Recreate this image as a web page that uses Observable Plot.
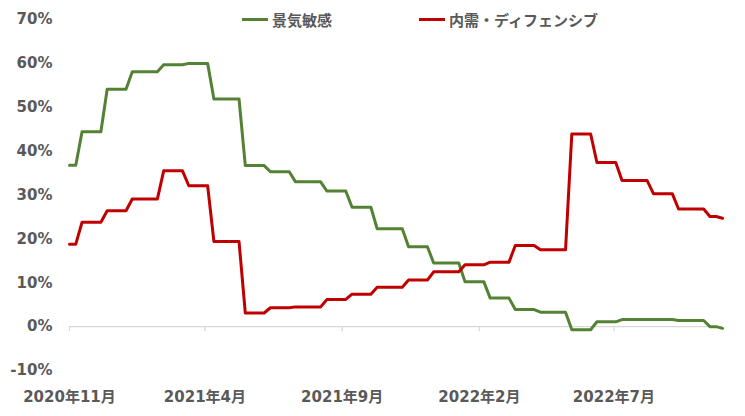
<!DOCTYPE html>
<html><head><meta charset="utf-8">
<script src="https://cdn.jsdelivr.net/npm/d3@7"></script>
<script src="https://cdn.jsdelivr.net/npm/@observablehq/plot@0.6"></script>
<style>
body{margin:0;background:#fff;}
#wrap{position:relative;width:745px;height:416px;font-family:"DejaVu Sans","Noto Sans CJK JP",sans-serif;}
.leg{position:absolute;top:9px;height:20px;display:flex;align-items:center;font-weight:bold;font-size:15px;color:#595959;white-space:nowrap;}
.sw{width:26px;height:3px;margin-right:4px;}
</style></head>
<body><div id="wrap"></div>
<script>
// Monthly values (%), each month's value in effect from ~10th of the month
const months = ["2020-10","2020-11","2020-12","2021-01","2021-02","2021-03","2021-04","2021-05","2021-06","2021-07","2021-08","2021-09","2021-10","2021-11","2021-12","2022-01","2022-02","2022-03","2022-04","2022-05","2022-06","2022-07","2022-08","2022-09","2022-10"];
const cyclical  = [36.8,44.4,54.1,58.1,59.7,60.0,51.9,36.7,35.3,33.0,30.9,27.2,22.3,18.2,14.5,10.2,6.5,3.9,3.3,-0.7,1.1,1.6,1.6,1.4,0.0];
const defensive = [18.8,23.8,26.4,29.1,35.5,32.1,19.4,3.1,4.3,4.5,6.2,7.4,9.0,10.6,12.5,14.1,14.7,18.5,17.5,43.9,37.4,33.3,30.3,26.8,25.1];
// latest observation
const latestCyclical = -0.4;
const latestDefensive = 24.7;
const seriesNames = ["景気敏感","内需・ディフェンシブ"];
const seriesColors = ["#548235","#C00000"];
const tickDates = ["2020-11-01","2021-04-01","2021-09-01","2022-02-01","2022-07-01"];
const tickLabels = ["2020年11月","2021年4月","2021年9月","2022年2月","2022年7月"];
const yTicks = [-10,0,10,20,30,40,50,60,70];

const parse = d3.timeParse("%Y-%m-%d");
const fmtM = d3.timeFormat("%Y-%m");
const weeks = d3.timeSunday.range(new Date(2020,10,1), new Date(2022,9,31));
const data = [];
[cyclical, defensive].forEach((vals, s) => {
  weeks.forEach((d, i) => {
    let v;
    if (i === weeks.length - 1) v = s === 0 ? latestCyclical : latestDefensive;
    else v = vals[months.indexOf(fmtM(d3.timeDay.offset(d, -9)))];
    data.push({date: d, value: v, series: seriesNames[s]});
  });
});
const ticks = tickDates.map(parse);
const labelMap = new Map(ticks.map((d, i) => [+d, tickLabels[i]]));
const font = '"DejaVu Sans","Noto Sans CJK JP",sans-serif';

const plot = Plot.plot({
  width: 745, height: 416,
  marginLeft: 69, marginRight: 23, marginTop: 19, marginBottom: 46,
  style: {fontFamily: font, fontSize: "15px", fontWeight: "bold", color: "#595959", background: "white"},
  x: {type: "time", domain: [weeks[0], weeks[weeks.length - 1]]},
  y: {domain: [-10, 70]},
  color: {domain: seriesNames, range: seriesColors},
  marks: [
    Plot.axisY({ticks: yTicks, tickSize: 0, tickPadding: 17, tickFormat: d => d + "%", fill: "#595959", fontSize: 15, fontWeight: "bold", label: null}),
    Plot.axisX({ticks: ticks, tickSize: 0, tickPadding: 21, tickFormat: d => labelMap.get(+d), fill: "#595959", fontSize: 15, fontWeight: "bold", label: null}),
    Plot.ruleY([0], {stroke: "#d9d9d9", strokeWidth: 1.3}),
    Plot.ruleX(ticks, {x: d => d, y1: 0, y2: -1.15, stroke: "#d9d9d9", strokeWidth: 1.3}),
    Plot.line(data, {x: "date", y: "value", z: "series", stroke: "series", strokeWidth: 3, strokeLinejoin: "round"})
  ]
});
const wrap = document.getElementById("wrap");
wrap.appendChild(plot);
const legPos = [242, 419];
seriesNames.forEach((n, i) => {
  const el = document.createElement("div");
  el.className = "leg";
  el.style.left = legPos[i] + "px";
  el.innerHTML = `<span class="sw" style="background:${seriesColors[i]}"></span><span>${n}</span>`;
  wrap.appendChild(el);
});
</script>
</body></html>
